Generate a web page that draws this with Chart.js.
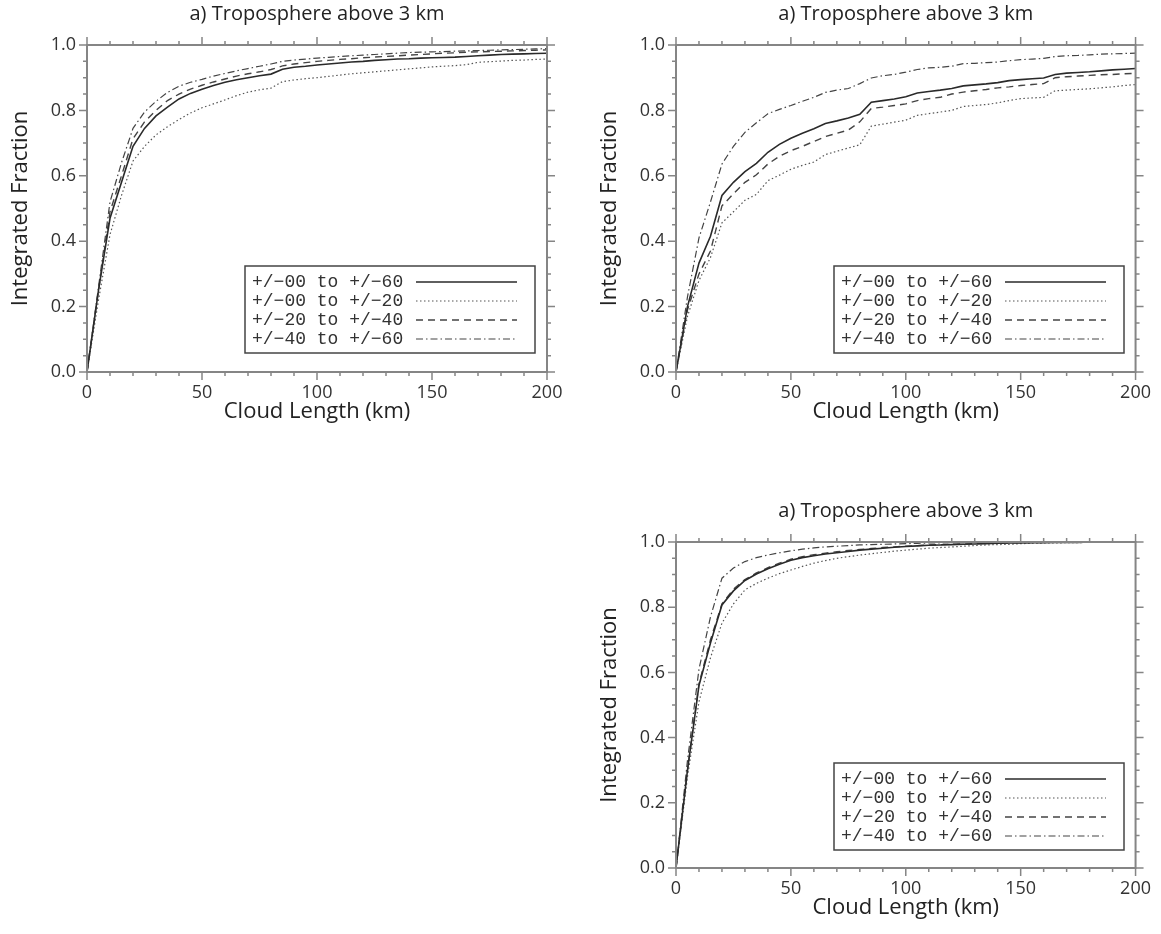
<!DOCTYPE html>
<html>
<head>
<meta charset="utf-8">
<script src="https://cdn.jsdelivr.net/npm/chart.js@4.4.1/dist/chart.umd.min.js"></script>
<style>
  html, body { margin: 0; padding: 0; background: #fff; overflow: hidden; width: 1161px; height: 934px; }
  canvas { position: absolute; }
</style>
</head>
<body>
<canvas id="chartA" width="580" height="460" style="left:0;top:0;width:580px;height:460px"></canvas>
<canvas id="chartB" width="572" height="460" style="left:589px;top:0;width:572px;height:460px"></canvas>
<canvas id="chartC" width="572" height="459" style="left:589px;top:497px;width:572px;height:459px"></canvas>
<script>
// cloud length bins (km)
const CLOUD_LENGTH = [0, 5, 10, 15, 20, 25, 30, 35, 40, 45,
  50, 55, 60, 65, 70, 75, 80, 85, 90, 95,
  100, 105, 110, 115, 120, 125, 130, 135, 140, 145,
  150, 155, 160, 165, 170, 175, 180, 185, 190, 195,
  200];

const LEGEND_LABELS = ['+/\u221200 to +/\u221260', '+/\u221200 to +/\u221220', '+/\u221220 to +/\u221240', '+/\u221240 to +/\u221260'];
const PANEL_TITLE = 'a) Troposphere above 3 km';
const X_TICKS = [0, 50, 100, 150, 200];
const Y_TICKS = [0.0, 0.2, 0.4, 0.6, 0.8, 1.0];

// panel 1 (top left)
const A_ALL = [0, 0.25, 0.47, 0.58, 0.69, 0.745, 0.783, 0.81, 0.835, 0.852,
  0.865, 0.876, 0.886, 0.894, 0.90, 0.906, 0.911, 0.926, 0.932, 0.935,
  0.939, 0.942, 0.945, 0.948, 0.95, 0.953, 0.955, 0.957, 0.958, 0.96,
  0.961, 0.962, 0.963, 0.965, 0.967, 0.969, 0.971, 0.972, 0.973, 0.974,
  0.975];
const A_00_20 = [0, 0.22, 0.42, 0.54, 0.645, 0.69, 0.725, 0.75, 0.772, 0.792,
  0.808, 0.82, 0.832, 0.845, 0.856, 0.863, 0.868, 0.888, 0.893, 0.897,
  0.90, 0.904, 0.908, 0.912, 0.915, 0.918, 0.921, 0.924, 0.927, 0.93,
  0.933, 0.935, 0.937, 0.94, 0.947, 0.949, 0.951, 0.953, 0.954, 0.956,
  0.957];
const A_20_40 = [0, 0.25, 0.49, 0.60, 0.713, 0.765, 0.80, 0.83, 0.85, 0.865,
  0.877, 0.887, 0.896, 0.905, 0.912, 0.918, 0.925, 0.936, 0.942, 0.946,
  0.95, 0.953, 0.956, 0.958, 0.961, 0.963, 0.965, 0.967, 0.969, 0.971,
  0.973, 0.975, 0.976, 0.978, 0.979, 0.98, 0.981, 0.982, 0.983, 0.984,
  0.985];
const A_40_60 = [0, 0.26, 0.52, 0.64, 0.745, 0.795, 0.828, 0.855, 0.874, 0.886,
  0.895, 0.905, 0.913, 0.921, 0.928, 0.935, 0.942, 0.95, 0.954, 0.957,
  0.96, 0.962, 0.965, 0.967, 0.969, 0.971, 0.973, 0.975, 0.977, 0.978,
  0.979, 0.98, 0.981, 0.982, 0.983, 0.984, 0.985, 0.986, 0.987, 0.988,
  0.989];

// panel 2 (top right)
const B_ALL = [0, 0.20, 0.333, 0.415, 0.54, 0.58, 0.613, 0.638, 0.672, 0.696,
  0.715, 0.73, 0.744, 0.76, 0.768, 0.777, 0.788, 0.825, 0.83, 0.835,
  0.842, 0.853, 0.858, 0.862, 0.867, 0.875, 0.878, 0.881, 0.885, 0.891,
  0.894, 0.897, 0.899, 0.91, 0.914, 0.916, 0.918, 0.921, 0.924, 0.926,
  0.928];
const B_00_20 = [0, 0.17, 0.28, 0.35, 0.456, 0.49, 0.525, 0.543, 0.585, 0.602,
  0.62, 0.632, 0.642, 0.665, 0.675, 0.685, 0.695, 0.752, 0.758, 0.764,
  0.77, 0.785, 0.79, 0.795, 0.80, 0.812, 0.815, 0.818, 0.823, 0.83,
  0.836, 0.838, 0.84, 0.86, 0.862, 0.864, 0.866, 0.869, 0.872, 0.876,
  0.879];
const B_20_40 = [0, 0.19, 0.30, 0.37, 0.508, 0.545, 0.58, 0.603, 0.636, 0.66,
  0.677, 0.69, 0.705, 0.72, 0.73, 0.74, 0.765, 0.806, 0.81, 0.815,
  0.82, 0.83, 0.836, 0.84, 0.85, 0.856, 0.86, 0.864, 0.869, 0.872,
  0.876, 0.879, 0.882, 0.90, 0.903, 0.905, 0.907, 0.909, 0.91, 0.912,
  0.913];
const B_40_60 = [0, 0.23, 0.41, 0.52, 0.636, 0.69, 0.733, 0.762, 0.79, 0.803,
  0.815, 0.828, 0.84, 0.855, 0.862, 0.867, 0.882, 0.899, 0.906, 0.91,
  0.917, 0.925, 0.93, 0.932, 0.935, 0.943, 0.944, 0.946, 0.948, 0.952,
  0.955, 0.957, 0.959, 0.965, 0.967, 0.968, 0.97, 0.972, 0.973, 0.974,
  0.975];

// panel 3 (bottom right)
const C_ALL = [0, 0.30, 0.56, 0.69, 0.807, 0.85, 0.882, 0.902, 0.918, 0.932,
  0.944, 0.952, 0.958, 0.963, 0.967, 0.971, 0.975, 0.978, 0.981, 0.984,
  0.986, 0.988, 0.99, 0.991, 0.992, 0.993, 0.994, 0.995, 0.996, 0.997,
  0.997, 0.998, 0.998, 0.999, 0.999, 0.999, 1, 1, 1, 1,
  1];
const C_00_20 = [0, 0.28, 0.51, 0.645, 0.751, 0.81, 0.853, 0.873, 0.889, 0.903,
  0.914, 0.925, 0.935, 0.943, 0.95, 0.955, 0.96, 0.964, 0.968, 0.972,
  0.975, 0.978, 0.981, 0.983, 0.985, 0.987, 0.989, 0.991, 0.992, 0.993,
  0.995, 0.996, 0.997, 0.997, 0.998, 0.998, 0.999, 0.999, 1, 1,
  1];
const C_20_40 = [0, 0.30, 0.565, 0.70, 0.81, 0.855, 0.885, 0.905, 0.921, 0.935,
  0.947, 0.955, 0.961, 0.966, 0.97, 0.974, 0.977, 0.98, 0.983, 0.985,
  0.987, 0.989, 0.991, 0.992, 0.993, 0.994, 0.995, 0.996, 0.997, 0.997,
  0.998, 0.998, 0.999, 0.999, 0.999, 1, 1, 1, 1, 1,
  1];
const C_40_60 = [0, 0.33, 0.61, 0.77, 0.889, 0.92, 0.94, 0.952, 0.96, 0.967,
  0.973, 0.978, 0.982, 0.985, 0.987, 0.989, 0.991, 0.992, 0.993, 0.994,
  0.995, 0.996, 0.997, 0.997, 0.998, 0.998, 0.999, 0.999, 0.999, 1,
  1, 1, 1, 1, 1, 1, 1, 1, 1, 1,
  1];

// solid, dotted, dashed, dash-dot
const LINE_STYLES = [
  { borderColor: '#2a2a2a', borderWidth: 1.6, borderDash: [] },
  { borderColor: '#555', borderWidth: 1.2, borderDash: [1.5, 2.5] },
  { borderColor: '#444', borderWidth: 1.4, borderDash: [7, 5] },
  { borderColor: '#444', borderWidth: 1.2, borderDash: [7, 3, 1.5, 3] }
];

const FRAME_COLOR = '#858585';

Chart.defaults.font.family = "'Open Sans', 'DejaVu Sans', sans-serif";
Chart.defaults.color = '#333';

const panelTitle = {
  id: 'panelTitle',
  afterDraw(chart, args, opts) {
    const { ctx, chartArea } = chart;
    ctx.save();
    ctx.font = "20px 'Open Sans'";
    ctx.fillStyle = '#222';
    ctx.textAlign = 'center';
    ctx.textBaseline = 'alphabetic';
    ctx.fillText(opts.text, (chartArea.left + chartArea.right) / 2, chartArea.top - 25);
    ctx.restore();
  }
};

// box round the plot, with outward major and minor ticks on all four sides
const frameTicks = {
  id: 'frameTicks',
  afterDatasetsDraw(chart) {
    const { ctx, chartArea: { left, right, top, bottom }, scales: { x, y } } = chart;
    ctx.save();
    ctx.strokeStyle = FRAME_COLOR;
    ctx.lineWidth = 2;
    ctx.strokeRect(left, top, right - left, bottom - top);
    ctx.lineWidth = 1.5;
    ctx.beginPath();
    for (let v = 0; v <= 200; v += 10) {
      const px = x.getPixelForValue(v);
      const len = X_TICKS.includes(v) ? 8 : 4;
      ctx.moveTo(px, top); ctx.lineTo(px, top - len);
      ctx.moveTo(px, bottom); ctx.lineTo(px, bottom + len);
    }
    for (let k = 0; k <= 20; k++) {
      const py = y.getPixelForValue(k * 0.05);
      const len = k % 4 === 0 ? 8 : 4;
      ctx.moveTo(left, py); ctx.lineTo(left - len, py);
      ctx.moveTo(right, py); ctx.lineTo(right + len, py);
    }
    ctx.stroke();
    ctx.restore();
  }
};

const boxLegend = {
  id: 'boxLegend',
  afterDraw(chart) {
    const { ctx, chartArea: { left, top } } = chart;
    ctx.save();
    ctx.fillStyle = '#fff';
    ctx.fillRect(left + 158, top + 221, 290, 87);
    ctx.strokeStyle = '#444';
    ctx.lineWidth = 1.5;
    ctx.strokeRect(left + 158, top + 221, 290, 87);
    ctx.font = "18px 'Liberation Mono', 'DejaVu Sans Mono', monospace";
    ctx.textBaseline = 'middle';
    chart.data.datasets.forEach((ds, i) => {
      const ry = top + 237 + i * 19;
      ctx.fillStyle = '#333';
      ctx.fillText(ds.label, left + 165, ry);
      ctx.strokeStyle = ds.borderColor;
      ctx.lineWidth = ds.borderWidth;
      ctx.setLineDash(ds.borderDash);
      ctx.beginPath();
      ctx.moveTo(left + 329, ry);
      ctx.lineTo(left + 430, ry);
      ctx.stroke();
    });
    ctx.restore();
  }
};

function toPoints(values) {
  return CLOUD_LENGTH.map((x, i) => ({ x: x, y: values[i] }));
}

function createPanel(id, series, rightPad) {
  return new Chart(document.getElementById(id), {
    type: 'line',
    data: {
      datasets: series.map((values, i) => ({
        label: LEGEND_LABELS[i],
        data: toPoints(values),
        pointRadius: 0,
        tension: 0,
        fill: false,
        ...LINE_STYLES[i]
      }))
    },
    options: {
      responsive: false,
      animation: false,
      layout: { padding: { left: 0, right: rightPad, top: 45, bottom: 32 } },
      plugins: {
        legend: { display: false },
        tooltip: { enabled: false },
        panelTitle: { text: PANEL_TITLE }
      },
      scales: {
        x: {
          type: 'linear',
          min: 0,
          max: 200,
          grid: { display: false, drawTicks: false },
          border: { display: false },
          afterBuildTicks: (scale) => { scale.ticks = X_TICKS.map(v => ({ value: v })); },
          ticks: { padding: 10, maxRotation: 0, autoSkip: false, color: '#333', font: { size: 18 } },
          title: { display: true, text: 'Cloud Length (km)', color: '#222', font: { size: 22 }, padding: { top: 0, bottom: 3 } },
          afterFit: (scale) => { scale.height = 56; }
        },
        y: {
          type: 'linear',
          min: 0,
          max: 1,
          grid: { display: false, drawTicks: false },
          border: { display: false },
          afterBuildTicks: (scale) => { scale.ticks = Y_TICKS.map(v => ({ value: v })); },
          ticks: { padding: 11, color: '#333', font: { size: 18 }, callback: (v) => Number(v).toFixed(1) },
          title: { display: true, text: 'Integrated Fraction', color: '#222', font: { size: 22 }, padding: { top: 8, bottom: 0 } },
          afterFit: (scale) => { scale.width = 87; }
        }
      }
    },
    plugins: [frameTicks, boxLegend, panelTitle]
  });
}

createPanel('chartA', [A_ALL, A_00_20, A_20_40, A_40_60], 33);
createPanel('chartB', [B_ALL, B_00_20, B_20_40, B_40_60], 25);
createPanel('chartC', [C_ALL, C_00_20, C_20_40, C_40_60], 25);
</script>
</body>
</html>
